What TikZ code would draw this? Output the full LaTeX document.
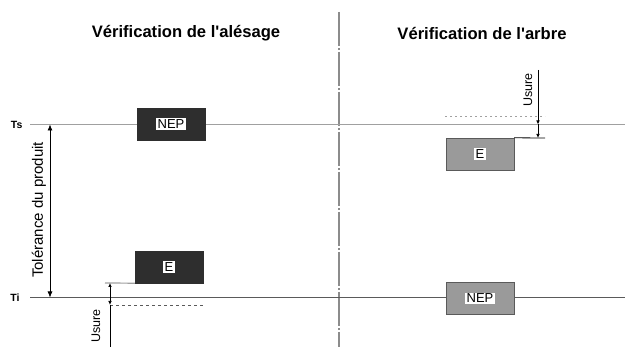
\documentclass[tikz,border=0pt]{standalone}
\usepackage{fontspec}
\setmainfont{Liberation Sans}
\usetikzlibrary{arrows.meta}
\definecolor{darkbox}{HTML}{2E2E2E}
\definecolor{lightbox}{HTML}{9A9A9A}
\definecolor{tsgray}{HTML}{A0A0A0}
\definecolor{tigray}{HTML}{5A5A5A}
\definecolor{axisgray}{HTML}{8C8C8C}
\tikzset{
  darkgauge/.style={draw=darkbox, fill=darkbox, minimum width=68pt, minimum height=32pt, inner sep=0pt},
  lightgauge/.style={draw=tigray, fill=lightbox, minimum width=68pt, minimum height=32pt, inner sep=0pt},
  tag/.style={fill=white, text=black, inner sep=1.5pt, font=\fontsize{13}{13}\selectfont},
  title/.style={font=\bfseries\fontsize{16.6}{18}\selectfont},
  level/.style={font=\bfseries\fontsize{10.5}{11}\selectfont},
  side/.style={rotate=90, font=\fontsize{12.5}{13}\selectfont},
  dimarrow/.style={-{Latex[length=4pt,width=3.5pt]}, line width=0.7pt},
  tolarrow/.style={{Latex[length=6pt,width=5pt]}-{Latex[length=6pt,width=5pt]}, line width=0.7pt},
}
\begin{document}
\begin{tikzpicture}[x=1pt, y=-1pt]
\useasboundingbox[fill=white] (0,0) rectangle (625,347);

% titles
\node[title] (t1) at (186,33) {Vérification de l\textquotesingle alésage};
\node[title] (t2) at (482,33) {Vérification de l\textquotesingle arbre};

% centre line between the two halves
\coordinate (axtop) at (339,12);
\coordinate (axbot) at (339,347);
\draw[axisgray, line width=1.2pt, dash pattern=on 34pt off 2pt on 2pt off 2pt] (axtop) -- (axbot);

% tolerance limits
\node[level, anchor=east] (ts) at (26,124.5) {Ts};
\node[level, anchor=east] (ti) at (23,297.5) {Ti};
\coordinate (tsend) at (625,124.5);
\coordinate (tiend) at (625,297.5);
\draw[tsgray, line width=1.8pt] (ts.east) ++(4,0) coordinate (tsstart) -- (tsend);
\draw[tigray, line width=1pt] (ti.east) ++(7,0) coordinate (tistart) -- (tiend);

% gauges for the bore
\node[darkgauge] (nep1) at (171,124) {};
\node[tag] at (nep1) {NEP};
\node[darkgauge] (e1) at (169,267) {};
\node[tag] at (e1) {E};

% gauges for the shaft
\node[lightgauge] (e2) at (480,154) {};
\node[tag] at (e2) {E};
\node[lightgauge] (nep2) at (480,298.5) {};
\node[tag] at (nep2) {NEP};

% product tolerance
\coordinate (tolA) at (50,124.5);
\coordinate (tolB) at (50,297.5);
\draw[tolarrow] (tolA) -- (tolB);
\node[side, font=\fontsize{15}{16}\selectfont] (tol) at (39,210) {Tolérance du produit};

% wear on the bore side
\coordinate (w1) at (105,283);
\coordinate (w1top) at (110,283);
\coordinate (w1ti) at (110,297.5);
\coordinate (w1lim) at (110,305);
\coordinate (w1bot) at (110,347);
\coordinate (w1dash) at (205,305);
\draw[tsgray, line width=1.2pt] (w1) -- (e1.south west);
\draw[tigray, line width=0.9pt, dash pattern=on 3pt off 3pt] (w1lim) -- (w1dash);
\draw[dimarrow] (w1ti) -- (w1top);
\draw[dimarrow] (w1ti) -- (w1lim);
\draw[line width=0.7pt] (w1lim) -- (w1bot);
\node[side] (u1) at (96,326) {Usure};

% wear on the shaft side
\coordinate (w2top) at (538,70);
\coordinate (w2lim) at (538,116);
\coordinate (w2ts) at (538,124.5);
\coordinate (w2box) at (538,138);
\coordinate (w2end) at (545,138);
\coordinate (w2dotA) at (445,116);
\coordinate (w2dotB) at (545,116);
\draw[tsgray, line width=0.9pt, dash pattern=on 2pt off 3pt] (w2dotA) -- (w2dotB);
\draw[line width=0.8pt] (e2.north east) -- (w2end);
\draw[dimarrow] (w2top) -- (w2ts);
\draw[dimarrow] (w2ts) -- (w2box);
\node[side] (u2) at (528,90) {Usure};
\end{tikzpicture}
\end{document}
